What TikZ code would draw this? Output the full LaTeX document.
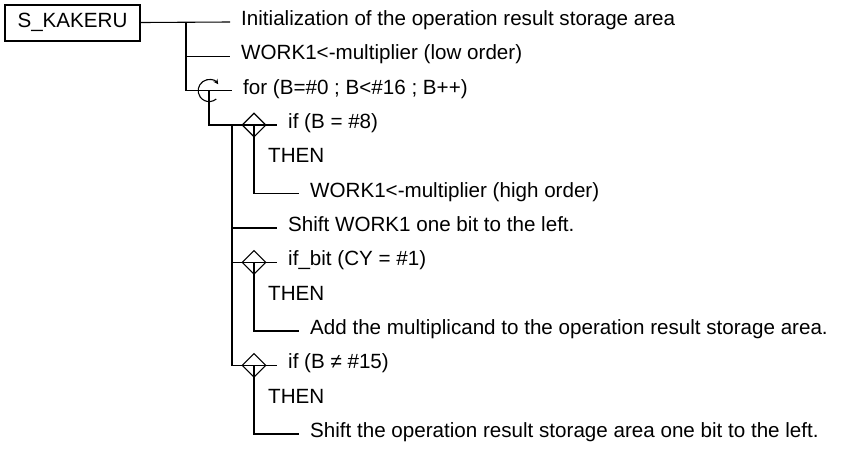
\documentclass[tikz,border=0pt]{standalone}
\usepackage{fontspec}
\setmainfont{Liberation Sans}
\usetikzlibrary{shapes.geometric,arrows.meta}
\begin{document}
\begin{tikzpicture}[x=1pt,y=-1pt,
  wire/.style={line width=1.1pt},
  txt/.style={anchor=west, inner xsep=11pt, inner ysep=0pt,
    text height=0.716em, text depth=0pt,
    font=\fontsize{20.6}{24}\selectfont},
  ifbox/.style={diamond, draw, line width=1.1pt, aspect=1,
    minimum width=24pt, minimum height=24pt, inner sep=0pt},
  loopmark/.style={circle, minimum size=22pt, inner sep=0pt}]
\useasboundingbox (0,0) rectangle (845,448);

% module box
\node[draw, line width=2pt, minimum width=135pt, minimum height=36pt,
  inner sep=0pt, font=\fontsize{20.6}{24}\selectfont] (main) at (72.5,22.5) {S\_KAKERU};

% statements
\node[txt] (init)   at (230,22)    {Initialization of the operation result storage area};
\node[txt] (wlow)   at (230,56.3)  {WORK1<-multiplier (low order)};
\node[txt] (forst)  at (232,90.7)  {for (B=\#0 ; B<\#16 ; B++)};
\node[txt] (if1)    at (277,125)   {if (B = \#8)};
\node[txt] (then1)  at (257,159.3) {THEN};
\node[txt] (whigh)  at (299,193.7) {WORK1<-multiplier (high order)};
\node[txt] (shift1) at (277,228)   {Shift WORK1 one bit to the left.};
\node[txt] (if2)    at (277,262.3) {if\_bit (CY = \#1)};
\node[txt] (then2)  at (257,296.7) {THEN};
\node[txt] (add)    at (299,331)   {Add the multiplicand to the operation result storage area.};
\node[txt] (if3)    at (277,365.3) {if (B ≠ \#15)};
\node[txt] (then3)  at (257,399.7) {THEN};
\node[txt] (shift2) at (299,434)   {Shift the operation result storage area one bit to the left.};

% junctions
\coordinate (t0) at (186,22);
\coordinate (t1) at (186,56.3);
\coordinate (t2) at (186,90.7);
\coordinate (b0) at (232,125);
\coordinate (b1) at (232,228);
\coordinate (b2) at (232,262.3);
\coordinate (b3) at (232,365.3);

% loop symbol and decision symbols
\node[loopmark] (lp) at (209,90.7) {};
\node[ifbox] (d1) at (254,125) {};
\node[ifbox] (d2) at (254,262.3) {};
\node[ifbox] (d3) at (254,365.3) {};

% main sequence
\draw[wire] (main.east) -- (init.west);
\draw[wire] (t0) -- (t2) -- (forst.west);
\draw[wire] (t1) -- (wlow.west);
\draw[wire, {Stealth[length=5pt,width=5pt]}-] (lp.35) arc[start angle=35, end angle=310, radius=11pt];

% loop body
\draw[wire] (lp.center) |- (d1.west);
\draw[wire] (b0) -- (b3) -- (d3.west);
\draw[wire] (b1) -- (shift1.west);
\draw[wire] (b2) -- (d2.west);

% branches
\draw[wire] (d1.west) -- (d1.east) -- (if1.west);
\draw[wire] (d1.center) |- (whigh.west);
\draw[wire] (d2.west) -- (d2.east) -- (if2.west);
\draw[wire] (d2.center) |- (add.west);
\draw[wire] (d3.west) -- (d3.east) -- (if3.west);
\draw[wire] (d3.center) |- (shift2.west);
\end{tikzpicture}
\end{document}
